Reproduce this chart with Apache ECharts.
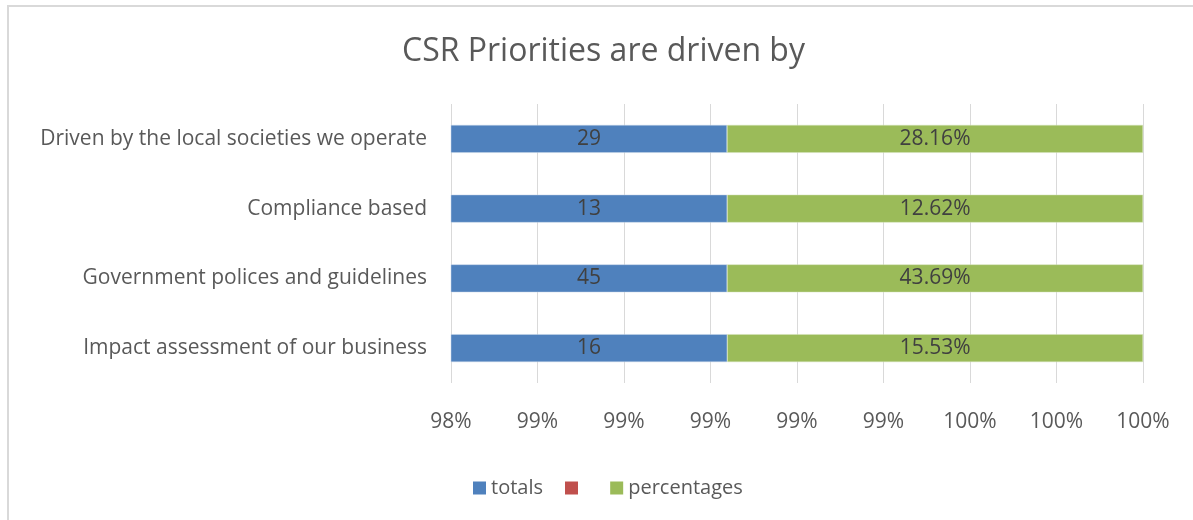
<!DOCTYPE html>
<html>
<head>
<meta charset="utf-8">
<script src="https://cdn.jsdelivr.net/npm/echarts@6/dist/echarts.min.js"></script>
<style>
html,body{margin:0;padding:0;background:#fff;}
#wrap{position:absolute;left:0;top:0;width:1193px;height:520px;}
#border{position:absolute;left:7px;top:5px;width:1300px;height:600px;border-left:2px solid #d9d9d9;border-top:2px solid #d9d9d9;}
#chart{position:absolute;left:0;top:0;width:1193px;height:520px;}
</style>
</head>
<body>
<div id="wrap"><div id="border"></div><div id="chart"></div></div>
<script>
const categories = ['Impact assessment of our business', 'Government polices and guidelines', 'Compliance based', 'Driven by the local societies we operate'];
const totals = [16, 45, 13, 29];
const percentages = [15.53, 43.69, 12.62, 28.16];
const blank = [0, 0, 0, 0];
const axisMin = 98.4, axisMax = 100, axisStep = 0.2;

const totalShare = totals.map((t, i) => t / (t + percentages[i] / 100) * 100);
const pctShare = totals.map((t, i) => (percentages[i] / 100) / (t + percentages[i] / 100) * 100);

const font = "'Open Sans', 'Liberation Sans', sans-serif";
const chart = echarts.init(document.getElementById('chart'), null, {renderer: 'canvas'});
chart.setOption({
  animation: false,
  backgroundColor: 'transparent',
  title: {
    text: 'CSR Priorities are driven by',
    left: 397, top: 31,
    textStyle: {fontFamily: font, fontSize: 32, fontWeight: 'normal', color: '#595959'}
  },
  legend: {
    bottom: 17, left: 468,
    itemWidth: 13, itemHeight: 13, itemGap: 22,
    icon: 'rect',
    itemStyle: {borderWidth: 0},
    data: ['totals', ' ', 'percentages'],
    textStyle: {fontFamily: font, fontSize: 20, color: '#595959'}
  },
  grid: {left: 451, right: 50, top: 104, bottom: 137, containLabel: false},
  xAxis: {
    type: 'value', min: axisMin, max: axisMax, interval: axisStep,
    axisLine: {show: false}, axisTick: {show: false},
    splitLine: {show: true, lineStyle: {color: '#d9d9d9', width: 1}},
    axisLabel: {
      margin: 29, fontFamily: font, fontSize: 21, color: '#595959',
      formatter: v => Math.round(v) + '%'
    }
  },
  yAxis: {
    type: 'category', data: categories,
    axisLine: {show: false}, axisTick: {show: false},
    axisLabel: {margin: 24, fontFamily: font, fontSize: 21, color: '#595959'}
  },
  series: [
    {
      name: 'totals', type: 'bar', stack: 's', barWidth: '40%',
      data: totalShare,
      itemStyle: {color: '#4f81bd', borderColor: '#c9d6e8', borderWidth: 0.5},
      label: {show: true, position: 'inside', fontFamily: font, fontSize: 21, color: '#404040',
        formatter: p => String(totals[p.dataIndex])}
    },
    {
      name: ' ', type: 'bar', stack: 's',
      data: blank,
      itemStyle: {color: '#c0504d'},
      label: {show: false}
    },
    {
      name: 'percentages', type: 'bar', stack: 's',
      data: pctShare,
      itemStyle: {color: '#9bbb59', borderColor: '#d5e2bd', borderWidth: 0.5},
      label: {show: true, position: 'inside', fontFamily: font, fontSize: 21, color: '#404040',
        formatter: p => percentages[p.dataIndex].toFixed(2) + '%'}
    }
  ]
});
</script>
</body>
</html>
